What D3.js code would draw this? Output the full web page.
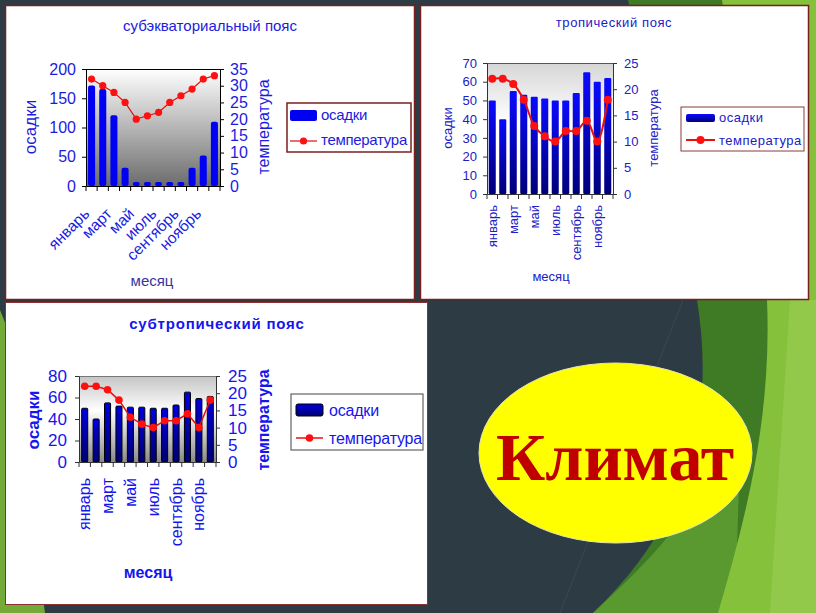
<!DOCTYPE html>
<html><head><meta charset="utf-8">
<script src="https://cdn.jsdelivr.net/npm/d3@7"></script>
<style>body{margin:0;background:#2c3b44;} svg{display:block}</style>
</head><body><svg id="c" width="816" height="613"></svg>
<script>
// ---------- data ----------
const months = ["январь","февраль","март","апрель","май","июнь","июль","август","сентябрь","октябрь","ноябрь","декабрь"];
const shownMonths = ["январь","март","май","июль","сентябрь","ноябрь"];
const seriesNames = ["осадки","температура"];
const chartTitles = ["субэкваториальный пояс","тропический пояс","субтропический пояс"];
const xAxisTitle = "месяц";

const subeqPrecip = [172,166,121,31,7,7,7,7,7,31,52,110];
const subeqTemp   = [32,30,28,25,20,21,22,25,27,29,32,33];
const subeqLeftTicks  = [0,50,100,150,200];
const subeqRightTicks = [0,5,10,15,20,25,30,35];

const tropPrecip = [50,40,55,53,52,51,50,50,54,65,60,62];
const tropTemp   = [22,22,21,18,13,11,10,12,12,14,10,18];
const tropLeftTicks  = [0,10,20,30,40,50,60,70];
const tropRightTicks = [0,5,10,15,20,25];

const subtropPrecip = [50,40,55,52,51,51,50,50,53,65,59,61];
const subtropTemp   = [22,22,21,18,13,11,10,12,12,14,10,18];
const subtropLeftTicks  = [0,20,40,60,80];
const subtropRightTicks = [0,5,10,15,20,25];

const bannerText = "Климат";

// ---------- drawing ----------
const svg = d3.select("#c");
const defs = svg.append("defs");
const FONT = "'Liberation Sans', Arial, sans-serif";

// slide background
svg.append("rect").attr("width",816).attr("height",613).attr("fill","#2c3b44");
svg.append("path").attr("d","M628,0 L816,0 L816,613 L593,613 C680,530 718,430 697,300 Z").attr("fill","#3f7a25");
svg.append("path").attr("d","M593,613 C650,560 690,520 705,470 L740,450 L735,613 Z").attr("fill","#5a9830");
svg.append("path").attr("d","M722,0 L816,0 L816,613 L718,613 C745,520 772,420 767,300 Z").attr("fill","#86c13c");
svg.append("path").attr("d","M790,300 L816,300 L816,613 L770,613 Z").attr("fill","#93c94a");
svg.append("path").attr("d","M0,310 L8,330 L45,613 L0,613 Z").attr("fill","#74aa38");
svg.append("line").attr("x1",683).attr("y1",300).attr("x2",560).attr("y2",613).attr("stroke","#3a4a52").attr("stroke-width",1);

// panels
svg.append("rect").attr("x",5.5).attr("y",5.5).attr("width",409).attr("height",294).attr("fill","#fff").attr("stroke","#7a1f1f").attr("stroke-width",1.5);
svg.append("rect").attr("x",420.5).attr("y",5.5).attr("width",388).attr("height",294).attr("fill","#fff").attr("stroke","#7a1f1f").attr("stroke-width",1.5);
svg.append("rect").attr("x",5.5).attr("y",302.5).attr("width",422).attr("height",302).attr("fill","#fff").attr("stroke","#8b3030").attr("stroke-width",1);

function gradient(id, stops) {
  const lg = defs.append("linearGradient").attr("id",id).attr("x1",0).attr("y1",0).attr("x2",0).attr("y2",1);
  stops.forEach(s => lg.append("stop").attr("offset",s[0]).attr("stop-color",s[1]));
  return `url(#${id})`;
}

function drawChart(cfg, precip, temp, leftTicks, rightTicks, title) {
  const g = svg.append("g");
  const x = d3.scaleBand().domain(months).range([cfg.x0, cfg.x1]).paddingInner(cfg.pad).paddingOuter(cfg.pad/2);
  const yL = d3.scaleLinear().domain([0, d3.max(leftTicks)]).range([cfg.y1, cfg.y0]);
  const yR = d3.scaleLinear().domain([0, d3.max(rightTicks)]).range([cfg.y1, cfg.y0]);

  // plot background
  g.append("rect").attr("x",cfg.x0).attr("y",cfg.y0).attr("width",cfg.x1-cfg.x0).attr("height",cfg.y1-cfg.y0)
    .attr("fill", gradient(cfg.id+"bg", cfg.bg));
  g.append("line").attr("x1",cfg.x0).attr("x2",cfg.x1).attr("y1",cfg.y0+0.5).attr("y2",cfg.y0+0.5)
    .attr("stroke",cfg.frame).attr("stroke-width",1);

  // bars
  const barFill = cfg.barGrad ? gradient(cfg.id+"bar", cfg.barGrad) : cfg.barColor;
  g.selectAll(".bar").data(precip).join("rect")
    .attr("x",(d,i)=>x(months[i])).attr("width",x.bandwidth())
    .attr("y",d=>yL(d)).attr("height",d=>cfg.y1-yL(d))
    .attr("rx",cfg.barRx).attr("fill",barFill)
    .attr("stroke",cfg.barStroke||"none").attr("stroke-width",1);

  // axes
  const ax = g.append("g").attr("font-family",FONT);
  const la = ax.append("g").attr("transform",`translate(${cfg.x0},0)`)
    .call(d3.axisLeft(yL).tickValues(leftTicks).tickSize(4).tickPadding(cfg.lpad).tickSizeOuter(0));
  const ra = ax.append("g").attr("transform",`translate(${cfg.x1},0)`)
    .call(d3.axisRight(yR).tickValues(rightTicks).tickSize(4).tickPadding(cfg.rpad).tickSizeOuter(0));
  [la,ra].forEach(a=>{
    a.selectAll("text").attr("font-size",cfg.tickFont).attr("fill",cfg.color).attr("font-family",FONT);
    a.selectAll("line").attr("stroke",cfg.axisColor);
    a.select(".domain").attr("stroke",cfg.axisColor);
  });
  const ba = ax.append("g").attr("transform",`translate(0,${cfg.y1})`)
    .call(d3.axisBottom(x).tickSize(0).tickSizeOuter(0).tickFormat(m => shownMonths.includes(m) ? m : ""));
  ba.select(".domain").attr("stroke",cfg.axisColor);
  ba.selectAll("text").attr("font-size",cfg.xFont).attr("fill",cfg.color).attr("font-family",FONT)
    .attr("text-anchor","end").attr("x",0).attr("y",0).attr("dy","0.35em")
    .attr("transform", cfg.xRot === -90 ? `rotate(-90) translate(${-cfg.xOff},0)` : `translate(${cfg.xdx},${cfg.xOff}) rotate(-45)`);
  // category boundary ticks
  const step = x.step();
  g.selectAll(".bt").data(d3.range(13)).join("line")
    .attr("x1",i=>cfg.x0+i*step).attr("x2",i=>cfg.x0+i*step)
    .attr("y1",cfg.y1).attr("y2",cfg.y1+5).attr("stroke",cfg.axisColor);

  // temperature line
  const line = d3.line().x((d,i)=>x(months[i])+x.bandwidth()/2).y(d=>yR(d)).curve(cfg.smooth ? d3.curveCatmullRom : d3.curveLinear);
  g.append("path").datum(temp).attr("d",line).attr("fill","none").attr("stroke",cfg.lineColor).attr("stroke-width",cfg.lineW);
  g.selectAll(".pt").data(temp).join("circle")
    .attr("cx",(d,i)=>x(months[i])+x.bandwidth()/2).attr("cy",d=>yR(d)).attr("r",cfg.dotR).attr("fill","#ff1010");

  // titles
  g.append("text").attr("x",cfg.titleX).attr("y",cfg.titleY).attr("text-anchor","middle")
    .attr("font-family",FONT).attr("font-size",cfg.titleFont).attr("font-weight",cfg.bold?"bold":"normal")
    .attr("letter-spacing",cfg.titleLS).attr("fill",cfg.color).text(title);
  g.append("text").attr("transform",`translate(${cfg.lTitleX},${cfg.axTitleY}) rotate(-90)`).attr("dy","0.35em")
    .attr("text-anchor","middle").attr("font-family",FONT).attr("font-size",cfg.lTitleFont)
    .attr("font-weight",cfg.bold?"bold":"normal").attr("fill",cfg.color).text(seriesNames[0]);
  g.append("text").attr("transform",`translate(${cfg.rTitleX},${cfg.axTitleY}) rotate(-90)`).attr("dy","0.35em")
    .attr("text-anchor","middle").attr("font-family",FONT).attr("font-size",cfg.rTitleFont)
    .attr("font-weight",cfg.bold?"bold":"normal").attr("fill",cfg.color).text(seriesNames[1]);
  g.append("text").attr("x",cfg.xTitleX).attr("y",cfg.xTitleY).attr("text-anchor","middle")
    .attr("font-family",FONT).attr("font-size",cfg.xTitleFont).attr("font-weight",cfg.bold?"bold":"normal")
    .attr("fill",cfg.xTitleColor||cfg.color).text(xAxisTitle);

  // legend
  const L = cfg.leg;
  g.append("rect").attr("x",L.x0).attr("y",L.y0).attr("width",L.x1-L.x0).attr("height",L.y1-L.y0)
    .attr("fill","#fff").attr("stroke",L.stroke).attr("stroke-width",L.sw);
  g.append("rect").attr("x",L.sx0).attr("y",L.r1y0).attr("width",L.sx1-L.sx0).attr("height",L.r1y1-L.r1y0)
    .attr("rx",2).attr("fill",barFill).attr("stroke",cfg.barStroke||"none");
  g.append("line").attr("x1",L.sx0).attr("x2",L.sx1).attr("y1",L.ly).attr("y2",L.ly)
    .attr("stroke",cfg.lineColor).attr("stroke-width",cfg.lineW);
  g.append("circle").attr("cx",(L.sx0+L.sx1)/2).attr("cy",L.ly).attr("r",cfg.dotR).attr("fill","#ff1010");
  g.append("text").attr("x",L.tx).attr("y",L.t1y).attr("font-family",FONT).attr("font-size",L.font)
    .attr("letter-spacing",L.ls).attr("fill",cfg.color).text(seriesNames[0]);
  g.append("text").attr("x",L.tx).attr("y",L.t2y).attr("font-family",FONT).attr("font-size",L.font)
    .attr("letter-spacing",L.ls).attr("fill",cfg.color).text(seriesNames[1]);
}

drawChart({
  id:"c1", x0:86, x1:220, y0:69, y1:186, pad:0.37,
  bg:[[0,"#ffffff"],[1,"#6c6c6c"]], frame:"#000", axisColor:"#000",
  barColor:"#0000f2", barRx:2, lineColor:"#e01010", lineW:1.2, dotR:3.6, smooth:false,
  color:"#1c1ce0", tickFont:16, lpad:6, rpad:6,
  xFont:15.5, xRot:-45, xOff:25, xdx:-5,
  titleX:210, titleY:31, titleFont:15, titleLS:0, bold:false,
  lTitleX:30, rTitleX:263, axTitleY:127, lTitleFont:17, rTitleFont:16,
  xTitleX:152, xTitleY:286, xTitleFont:15, xTitleColor:"#36369a",
  leg:{x0:287,y0:103,x1:411,y1:152,stroke:"#7a1f1f",sw:1.5,sx0:290,sx1:317,r1y0:110,r1y1:121,ly:141,tx:321,t1y:120,t2y:145,font:15,ls:-0.3}
}, subeqPrecip, subeqTemp, subeqLeftTicks, subeqRightTicks, chartTitles[0]);

drawChart({
  id:"c2", x0:487, x1:613, y0:63, y1:194, pad:0.33,
  bg:[[0,"#d6d6d6"],[0.45,"#ffffff"],[1,"#ffffff"]], frame:"#555", axisColor:"#333",
  barGrad:[[0,"#0a0aff"],[1,"#00007a"]], barRx:1, lineColor:"#e81010", lineW:2, dotR:4, smooth:true,
  color:"#2020c8", tickFont:13, lpad:6, rpad:7,
  xFont:13, xRot:-90, xOff:11,
  titleX:614, titleY:27, titleFont:13, titleLS:0.6, bold:false,
  lTitleX:447, rTitleX:653, axTitleY:128, lTitleFont:13, rTitleFont:13,
  xTitleX:551, xTitleY:281, xTitleFont:13,
  leg:{x0:681,y0:107,x1:804,y1:151,stroke:"#8b3a3a",sw:1,sx0:686,sx1:715,r1y0:114,r1y1:122,ly:140,tx:719,t1y:122,t2y:145,font:13,ls:0.5}
}, tropPrecip, tropTemp, tropLeftTicks, tropRightTicks, chartTitles[1]);

drawChart({
  id:"c3", x0:79, x1:216, y0:376, y1:462, pad:0.47,
  bg:[[0,"#c4c4c4"],[0.4,"#ffffff"],[1,"#8a8a8a"]], frame:"#777", axisColor:"#333",
  barGrad:[[0,"#0000e0"],[1,"#000070"]], barStroke:"#000", barRx:1, lineColor:"#e81010", lineW:1.5, dotR:3.8, smooth:false,
  color:"#1515ee", tickFont:17, lpad:8, rpad:8,
  xFont:16, xRot:-90, xOff:16,
  titleX:217, titleY:329, titleFont:15, titleLS:0.8, bold:true,
  lTitleX:33, rTitleX:263, axTitleY:420, lTitleFont:17, rTitleFont:16,
  xTitleX:148, xTitleY:578, xTitleFont:16,
  leg:{x0:291,y0:394,x1:423,y1:450,stroke:"#444",sw:1,sx0:296,sx1:323,r1y0:404,r1y1:416,ly:438,tx:329,t1y:416,t2y:444,font:16,ls:-0.2}
}, subtropPrecip, subtropTemp, subtropLeftTicks, subtropRightTicks, chartTitles[2]);

// banner ellipse
svg.append("ellipse").attr("cx",615.5).attr("cy",453).attr("rx",136.5).attr("ry",90)
  .attr("fill","#ffff00").attr("stroke","#e6e6b0").attr("stroke-width",1);
svg.append("text").attr("x",615).attr("y",480).attr("text-anchor","middle")
  .attr("font-family","'Liberation Serif','Times New Roman',serif").attr("font-weight","bold")
  .attr("font-size",68).attr("fill","#c00000").text(bannerText);
</script></body></html>
